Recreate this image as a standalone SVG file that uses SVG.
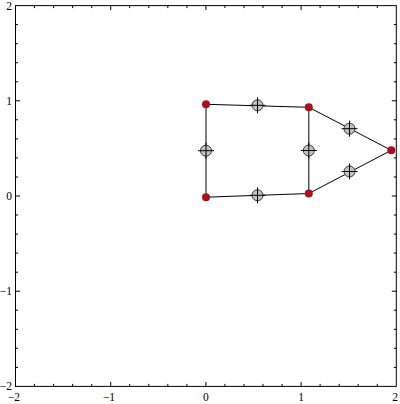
<svg xmlns="http://www.w3.org/2000/svg" width="400" height="404" viewBox="0 0 400 404">
<style>
.frame{fill:none;stroke:#000;stroke-width:1}
.tick{fill:none;stroke:#000;stroke-width:1}
.lbl{font-family:"Liberation Serif","Times New Roman",serif;font-size:11.5px;fill:#000}
.edge{fill:none;stroke:#000;stroke-width:1}
.red{fill:#a8101c;stroke:none}
.gray{fill:#c2c2c2;stroke:#333;stroke-width:1}
.cross{stroke:#000;stroke-width:1}
</style>
<defs>
<g id="gm"><circle class="gray" r="5.5"/><path class="cross" d="M-8 0H8M0 -8V8"/></g>
</defs>
<rect width="400" height="404" fill="#fff"/>
<g id="axes">
<rect class="frame" x="15.5" y="5.6" width="380.8" height="380.8"/>
<path class="tick" d="M34.5 386.4v-2.5M53.6 386.4v-2.5M72.6 386.4v-2.5M91.7 386.4v-2.5M129.7 386.4v-2.5M148.8 386.4v-2.5M167.8 386.4v-2.5M186.9 386.4v-2.5M224.9 386.4v-2.5M244 386.4v-2.5M263 386.4v-2.5M282.1 386.4v-2.5M320.1 386.4v-2.5M339.2 386.4v-2.5M358.2 386.4v-2.5M377.3 386.4v-2.5M110.7 386.4v-4.5M205.9 386.4v-4.5M301.1 386.4v-4.5
M34.5 5.6v2.5M53.6 5.6v2.5M72.6 5.6v2.5M91.7 5.6v2.5M129.7 5.6v2.5M148.8 5.6v2.5M167.8 5.6v2.5M186.9 5.6v2.5M224.9 5.6v2.5M244 5.6v2.5M263 5.6v2.5M282.1 5.6v2.5M320.1 5.6v2.5M339.2 5.6v2.5M358.2 5.6v2.5M377.3 5.6v2.5M110.7 5.6v4.5M205.9 5.6v4.5M301.1 5.6v4.5
M15.5 24.6h2.5M15.5 43.7h2.5M15.5 62.7h2.5M15.5 81.8h2.5M15.5 119.8h2.5M15.5 138.9h2.5M15.5 157.9h2.5M15.5 177h2.5M15.5 215h2.5M15.5 234.1h2.5M15.5 253.1h2.5M15.5 272.2h2.5M15.5 310.2h2.5M15.5 329.3h2.5M15.5 348.3h2.5M15.5 367.4h2.5M15.5 100.8h4.5M15.5 196h4.5M15.5 291.2h4.5
M396.3 24.6h-2.5M396.3 43.7h-2.5M396.3 62.7h-2.5M396.3 81.8h-2.5M396.3 119.8h-2.5M396.3 138.9h-2.5M396.3 157.9h-2.5M396.3 177h-2.5M396.3 215h-2.5M396.3 234.1h-2.5M396.3 253.1h-2.5M396.3 272.2h-2.5M396.3 310.2h-2.5M396.3 329.3h-2.5M396.3 348.3h-2.5M396.3 367.4h-2.5M396.3 100.8h-4.5M396.3 196h-4.5M396.3 291.2h-4.5"/>
<g class="lbl" text-anchor="end">
<text x="12" y="9.6">2</text>
<text x="12" y="104.8">1</text>
<text x="12" y="200">0</text>
<text x="12" y="295.2">−1</text>
<text x="12" y="390.4">−2</text>
</g>
<g class="lbl" text-anchor="middle">
<text x="14" y="401">−2</text>
<text x="109" y="401">−1</text>
<text x="205.9" y="401">0</text>
<text x="301.1" y="401">1</text>
<text x="395" y="401">2</text>
</g>
</g>
<g id="connectors">
<path class="edge" d="M206 104.3L308.8 107.3L391.3 150.3L308.8 193.5L206 197.2Z"/>
<path class="edge" d="M308.8 107.3L308.8 193.5"/>
</g>
<g id="p1"><circle class="red" cx="206" cy="104.3" r="4"/></g>
<g id="p2"><circle class="red" cx="308.8" cy="107.3" r="4"/></g>
<g id="p3"><circle class="red" cx="391.3" cy="150.3" r="4"/></g>
<g id="p4"><circle class="red" cx="308.8" cy="193.5" r="4"/></g>
<g id="p5"><circle class="red" cx="206" cy="197.2" r="4"/></g>
<g id="m1"><use href="#gm" x="257.5" y="105.3"/></g>
<g id="m2"><use href="#gm" x="349.5" y="128.7"/></g>
<g id="m3"><use href="#gm" x="349.5" y="171.5"/></g>
<g id="m4"><use href="#gm" x="257.5" y="195.3"/></g>
<g id="m5"><use href="#gm" x="206" y="150.7"/></g>
<g id="m6"><use href="#gm" x="308.8" y="150.5"/></g>
</svg>
